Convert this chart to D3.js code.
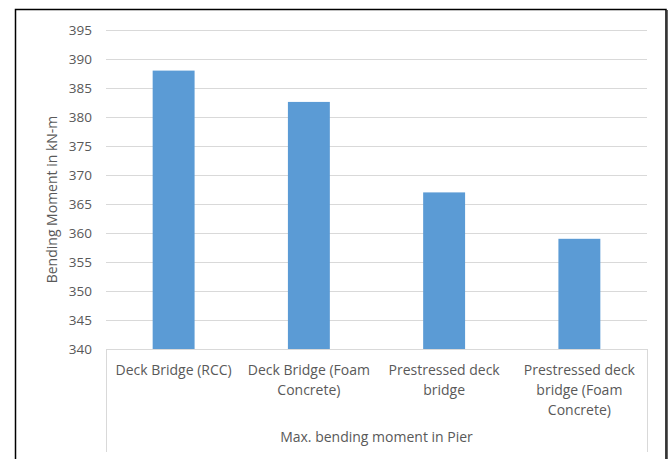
<!DOCTYPE html>
<html><head><meta charset="utf-8">
<script src="https://cdn.jsdelivr.net/npm/d3@7"></script>
<style>
html,body{margin:0;padding:0;background:#fff;}
svg{display:block;}
text{font-family:"Open Sans","Noto Sans",sans-serif;}
</style></head>
<body><svg id="c" width="672" height="459"></svg>
<script>
const categories = [["Deck Bridge (RCC)"],["Deck Bridge (Foam","Concrete)"],["Prestressed deck","bridge"],["Prestressed deck","bridge (Foam","Concrete)"]];
const values = [388, 382.6, 367, 359];
const yTicks = [340,345,350,355,360,365,370,375,380,385,390,395];
const groupLabel = "Max. bending moment in Pier";
const yTitle = "Bending Moment in kN-m";

(function(){
const svg = d3.select("#c");
const pL=106, pR=647, pT=30, pB=349;
const x = d3.scaleBand().domain(d3.range(categories.length)).range([pL,pR]).paddingInner(0.69).paddingOuter(0.345);
const y = d3.scaleLinear().domain([340,395]).range([pB,pT]);

// frame
svg.append("rect").attr("x",15.5).attr("y",9.5).attr("width",650.5).attr("height",470).attr("fill","none").attr("stroke","#000").attr("stroke-width",1.5);
svg.append("line").attr("x1",667).attr("x2",667).attr("y1",10).attr("y2",459).attr("stroke","#333").attr("stroke-width",1.5);

// gridlines
svg.append("g").selectAll("line").data(yTicks.filter(d=>d>340)).join("line")
  .attr("x1",pL).attr("x2",pR).attr("y1",d=>Math.round(y(d))+0.5).attr("y2",d=>Math.round(y(d))+0.5)
  .attr("stroke","#d9d9d9").attr("stroke-width",1);

// y axis labels
const ya = svg.append("g").attr("transform",`translate(${pL-14},0)`).call(d3.axisLeft(y).tickValues(yTicks).tickSize(0).tickPadding(0));
ya.select(".domain").remove();
ya.selectAll("text").attr("fill","#595959").style("font-size","13.5px").style("font-family","'Open Sans','Noto Sans',sans-serif");

// bars
svg.append("g").selectAll("rect").data(values).join("rect")
  .attr("x",(d,i)=>x(i)).attr("width",x.bandwidth())
  .attr("y",d=>y(d)).attr("height",d=>pB-y(d))
  .attr("fill","#5b9bd5");

// x axis line + outer tick lines
svg.append("line").attr("x1",pL).attr("x2",pR).attr("y1",pB+0.5).attr("y2",pB+0.5).attr("stroke","#d9d9d9");
[pL,pR].forEach(xx=>svg.append("line").attr("x1",xx+0.5).attr("x2",xx+0.5).attr("y1",pB).attr("y2",452).attr("stroke","#d9d9d9"));

// category labels
const cg = svg.append("g");
categories.forEach((lines,i)=>{
  const t = cg.append("text").attr("x",x(i)+x.bandwidth()/2).attr("y",375).attr("text-anchor","middle")
    .attr("fill","#595959").style("font-size","14px");
  lines.forEach((l,j)=>t.append("tspan").attr("x",x(i)+x.bandwidth()/2).attr("dy",j===0?0:20).text(l));
});
svg.append("text").attr("x",(pL+pR)/2).attr("y",442).attr("text-anchor","middle").attr("fill","#595959").style("font-size","14px").text(groupLabel);

// y title
svg.append("text").attr("transform",`translate(57,${(pT+pB)/2+10}) rotate(-90)`).attr("text-anchor","middle")
  .attr("fill","#595959").style("font-size","14px").text(yTitle);
})();
</script></body></html>
